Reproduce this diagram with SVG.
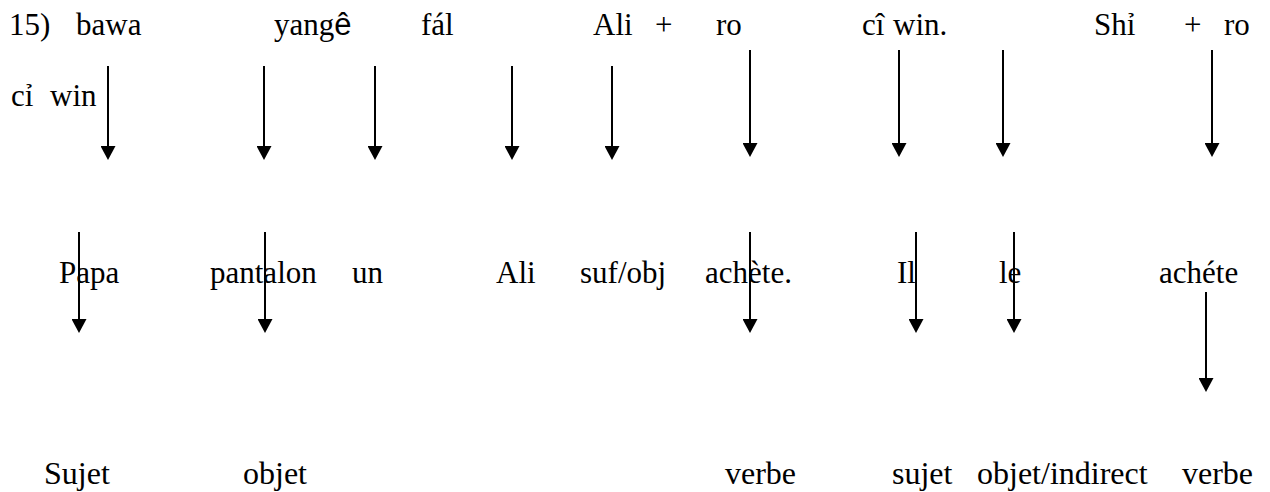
<svg xmlns="http://www.w3.org/2000/svg" width="1270" height="492" viewBox="0 0 1270 492">
<defs>
<style>
text{font-family:"Liberation Serif","Times New Roman",serif;font-size:31px;fill:#000}
.s{font-family:"Liberation Sans",Arial,sans-serif}
#row4 text{font-size:32px}
.arr line{stroke:#000;stroke-width:2}
</style>
<marker id="ah" viewBox="0 0 14 15" refX="0" refY="7.5" markerWidth="14" markerHeight="15" orient="auto" markerUnits="userSpaceOnUse">
<path d="M0,0 L14,7.5 L0,15 z" fill="#000"/>
</marker>
</defs>
<rect width="1270" height="492" fill="#fff"/>
<g id="row1">
<g id="n15"><text x="9" y="35">15)</text></g>
<g id="bawa"><text x="76" y="35">bawa</text></g>
<g id="yange"><text x="274" y="35">yang<tspan class="s">ê</tspan></text></g>
<g id="fal"><text x="421" y="35">fál</text></g>
<g id="ali1"><text x="593" y="35">Ali</text></g>
<g id="plus1"><text x="655" y="35">+</text></g>
<g id="ro1"><text x="716" y="35">ro</text></g>
<g id="ciwin1"><text x="862" y="35">cî<tspan x="893">win.</tspan></text></g>
<g id="shi"><text x="1094" y="35">Shỉ</text></g>
<g id="plus2"><text x="1184" y="35">+</text></g>
<g id="ro2"><text x="1224" y="35">ro</text></g>
<g id="ciwin2"><text x="11" y="106">cỉ<tspan x="50">win</tspan></text></g>
</g>
<g id="row3">
<g id="papa"><text x="59" y="283">Papa</text></g>
<g id="pantalon"><text x="210" y="283">pantalon</text></g>
<g id="un"><text x="352" y="283">un</text></g>
<g id="ali2"><text x="496" y="283">Ali</text></g>
<g id="sufobj"><text x="580" y="283">suf/obj</text></g>
<g id="achete1"><text x="705" y="283">achète.</text></g>
<g id="il"><text x="897" y="283">Il</text></g>
<g id="le"><text x="999" y="283">le</text></g>
<g id="achete2"><text x="1159" y="283">achéte</text></g>
</g>
<g id="row4">
<g id="sujet1"><text x="44" y="484">Sujet</text></g>
<g id="objet1"><text x="243" y="484">objet</text></g>
<g id="verbe1"><text x="725" y="484">verbe</text></g>
<g id="sujet2"><text x="892" y="484">sujet</text></g>
<g id="objind"><text x="977" y="484">objet/indirect</text></g>
<g id="verbe2"><text x="1182" y="484">verbe</text></g>
</g>
<g id="connectors" class="arr">
<line x1="108" y1="66" x2="108" y2="146" marker-end="url(#ah)"/>
<line x1="264" y1="66" x2="264" y2="146" marker-end="url(#ah)"/>
<line x1="375" y1="66" x2="375" y2="146" marker-end="url(#ah)"/>
<line x1="512" y1="66" x2="512" y2="146" marker-end="url(#ah)"/>
<line x1="612" y1="66" x2="612" y2="146" marker-end="url(#ah)"/>
<line x1="750" y1="50" x2="750" y2="143" marker-end="url(#ah)"/>
<line x1="899" y1="50" x2="899" y2="143" marker-end="url(#ah)"/>
<line x1="1003" y1="50" x2="1003" y2="143" marker-end="url(#ah)"/>
<line x1="1212" y1="50" x2="1212" y2="143" marker-end="url(#ah)"/>
<line x1="79" y1="232" x2="79" y2="319" marker-end="url(#ah)"/>
<line x1="265" y1="232" x2="265" y2="319" marker-end="url(#ah)"/>
<line x1="750" y1="232" x2="750" y2="319" marker-end="url(#ah)"/>
<line x1="916" y1="232" x2="916" y2="319" marker-end="url(#ah)"/>
<line x1="1014" y1="232" x2="1014" y2="319" marker-end="url(#ah)"/>
<line x1="1206" y1="292" x2="1206" y2="378" marker-end="url(#ah)"/>
</g>
</svg>
